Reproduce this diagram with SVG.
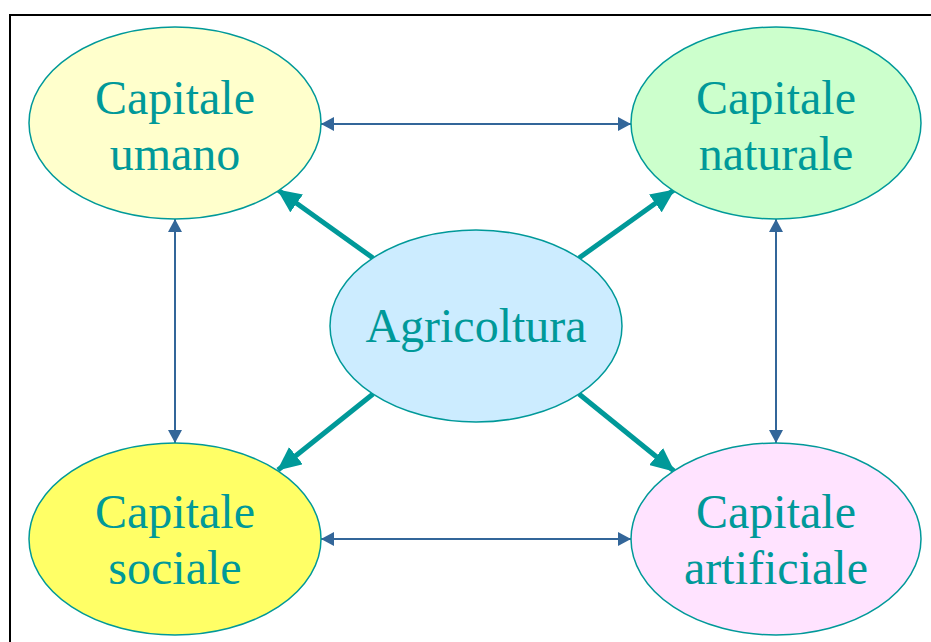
<svg xmlns="http://www.w3.org/2000/svg" width="931" height="642" viewBox="0 0 931 642">
  <style>
    .node ellipse { stroke: #009999; stroke-width: 1.5; }
    .label { font-family: "Liberation Serif", "Times New Roman", serif; font-size: 48px; fill: #009999; text-anchor: middle; }
    .thin { stroke: #336699; stroke-width: 2; fill: none; marker-start: url(#thinHead); marker-end: url(#thinHead); }
    .thick { stroke: #009999; stroke-width: 5; fill: none; marker-end: url(#thickHead); }
  </style>
  <defs>
    <marker id="thinHead" viewBox="0 0 13 14" refX="13" refY="7" markerWidth="13" markerHeight="14" markerUnits="userSpaceOnUse" orient="auto-start-reverse">
      <path d="M0,0 L13,7 L0,14 Z" fill="#336699"/>
    </marker>
    <marker id="thickHead" viewBox="0 0 24 22" refX="23" refY="11" markerWidth="24" markerHeight="22" markerUnits="userSpaceOnUse" orient="auto">
      <path d="M0,0 L24,11 L0,22 Z" fill="#009999"/>
    </marker>
  </defs>

  <rect x="10" y="15" width="940" height="650" fill="#ffffff" stroke="#000000" stroke-width="2"/>

  <g id="connectors">
    <line class="thin" x1="321" y1="124" x2="631" y2="124"/>
    <line class="thin" x1="321" y1="539" x2="631" y2="539"/>
    <line class="thin" x1="175" y1="219" x2="175" y2="443"/>
    <line class="thin" x1="776" y1="219" x2="776" y2="443"/>
    <line class="thick" x1="373" y1="258" x2="278" y2="190"/>
    <line class="thick" x1="579" y1="258" x2="674" y2="190"/>
    <line class="thick" x1="373" y1="394" x2="278" y2="470"/>
    <line class="thick" x1="579" y1="394" x2="674" y2="471"/>
  </g>

  <g id="capitale-umano" class="node">
    <ellipse cx="175" cy="123" rx="146" ry="96" fill="#FFFFCC"/>
    <text class="label" x="175" y="114">Capitale</text>
    <text class="label" x="175" y="170">umano</text>
  </g>

  <g id="capitale-naturale" class="node">
    <ellipse cx="776" cy="123" rx="145" ry="96" fill="#CCFFCC"/>
    <text class="label" x="776" y="114">Capitale</text>
    <text class="label" x="776" y="170">naturale</text>
  </g>

  <g id="agricoltura" class="node">
    <ellipse cx="476" cy="326" rx="146" ry="96" fill="#CCECFF"/>
    <text class="label" x="476" y="342">Agricoltura</text>
  </g>

  <g id="capitale-sociale" class="node">
    <ellipse cx="175" cy="539" rx="146" ry="96" fill="#FFFF66"/>
    <text class="label" x="175" y="528">Capitale</text>
    <text class="label" x="175" y="584">sociale</text>
  </g>

  <g id="capitale-artificiale" class="node">
    <ellipse cx="776" cy="539" rx="145" ry="96" fill="#FFE3FF"/>
    <text class="label" x="776" y="528">Capitale</text>
    <text class="label" x="776" y="584">artificiale</text>
  </g>
</svg>
